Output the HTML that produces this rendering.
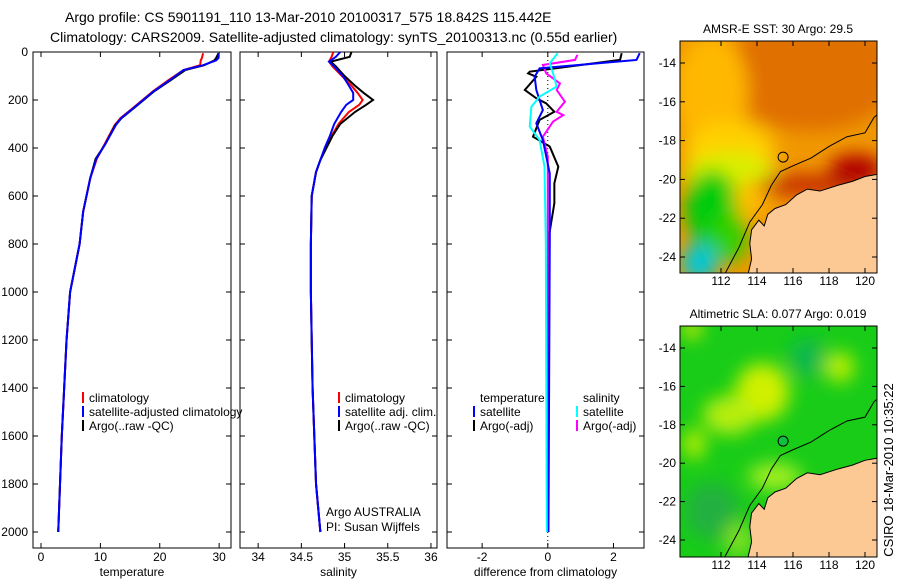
<!DOCTYPE html>
<html><head><meta charset="utf-8"><style>
body{margin:0;background:#fff;width:900px;height:580px;overflow:hidden}
svg{font-family:"Liberation Sans",sans-serif;font-size:12px}
</style></head><body>
<svg id="c" width="900" height="580" xmlns="http://www.w3.org/2000/svg">
<defs>
<filter id="bl" x="-20%" y="-20%" width="140%" height="140%"><feGaussianBlur stdDeviation="9"/></filter>
<clipPath id="m1c"><rect x="680" y="41" width="197" height="232"/></clipPath>
<clipPath id="m2c"><rect x="680" y="326" width="197" height="231"/></clipPath>
</defs>
<text x="65" y="22" font-size="14">Argo profile: CS 5901191_110 13-Mar-2010 20100317_575 18.842S 115.442E</text>
<text x="50" y="42" font-size="14">Climatology: CARS2009. Satellite-adjusted climatology: synTS_20100313.nc (0.55d earlier)</text>
<g id="plots"></g>
<text transform="translate(893,470) rotate(-90)" text-anchor="middle" font-size="13">CSIRO 18-Mar-2010 10:35:22</text>
</svg>
<script>
// ---- data ----
const depthT=[5,25,35,55,75,115,165,235,275,305,385,445,525,665,800,1000,1200,1400,1600,1800,2000];
const tempClim=[27.3,27.1,26.9,26.8,24.0,21.6,18.8,15.4,13.4,12.4,10.7,9.4,8.3,7.1,6.5,4.9,4.3,3.9,3.5,3.2,2.9];
const tempSat=[29.9,29.9,29.5,27.3,24.0,21.8,18.9,15.5,13.5,12.6,10.8,9.3,8.3,7.1,6.5,4.9,4.3,3.9,3.5,3.2,2.9];
const tempArgo=[29.9,29.5,29.2,27.5,24.3,22.0,19.0,15.6,13.6,12.5,10.8,9.2,8.3,7.1,6.5,4.9,4.3,3.9,3.5,3.2,2.9];
const depthS=[0,20,40,60,100,140,170,200,220,250,300,350,400,450,500,600,800,1000,1400,1800,2000];
const salClim=[34.87,34.85,34.82,34.86,34.97,35.08,35.15,35.21,35.17,35.05,34.93,34.85,34.78,34.72,34.67,34.62,34.61,34.61,34.63,34.67,34.72];
const salSat=[34.95,34.90,34.82,34.88,34.98,35.05,35.10,35.10,35.02,34.96,34.88,34.83,34.77,34.72,34.67,34.62,34.61,34.61,34.63,34.67,34.72];
const salArgo=[35.08,35.06,34.84,34.90,35.00,35.12,35.22,35.33,35.25,35.12,34.95,34.86,34.79,34.72,34.67,34.62,34.61,34.61,34.63,34.67,34.72];
const depthDTargo=[5,33,82,89,103,158,193,214,249,283,353,394,478,547,630,780,2000];
const dTargo=[2.25,2.2,-0.55,-0.6,-0.35,-0.7,-0.35,-0.05,0.2,-0.25,-0.45,0.06,0.32,0.2,0.2,0.02,0];
const depthDTsat=[5,33,68,103,158,242,297,367,506,783,2000];
const dTsat=[2.8,2.7,-0.25,-0.4,-0.35,-0.15,-0.35,-0.15,0.06,0.06,0.02];
const depthDSargo=[12,33,54,89,131,158,207,249,263,290,353,436,2000];
const dSargo=[0.9,0.83,-0.15,-0.05,0.37,0.27,0.52,0.27,0.47,0.16,-0.15,0,0];
const depthDSsat=[5,47,89,144,186,228,311,367,478,800,2000];
const dSsat=[0.3,0.06,0.16,0.27,-0.25,-0.5,-0.55,-0.25,-0.1,-0.06,-0.03];
const tTicks=[0,10,20,30], sTicks=[34,34.5,35,35.5,36], dTicks=[-2,0,2], zTicks=[0,200,400,600,800,1000,1200,1400,1600,1800,2000];
const lonTicks=[112,114,116,118,120], latTicks=[-14,-16,-18,-20,-22,-24];
const coast=[[120.9,-19.7],[120,-19.85],[119.3,-20.1],[118.5,-20.3],[117.5,-20.6],[116.8,-20.5],[116.2,-20.8],[115.6,-21.3],[115,-21.5],[114.6,-21.8],[114.4,-22.4],[114.1,-22.1],[113.7,-22.6],[113.6,-23.3],[113.7,-24.1],[113.5,-24.9],[120.9,-24.9]];
const shelf=[[112.2,-24.9],[113,-23.5],[113.6,-22.2],[114.3,-21.3],[114.8,-20.3],[115.3,-19.6],[116,-19.3],[117,-18.9],[118,-18.3],[119,-17.8],[120,-17.6],[120.5,-16.8],[120.9,-16.5]];
const argoPos=[115.45,-18.85];
// ---- drawing ----
const NS='http://www.w3.org/2000/svg', G=document.getElementById('plots');
function mk(t,a,p){const e=document.createElementNS(NS,t);for(const k in a)e.setAttribute(k,a[k]);(p||G).appendChild(e);return e;}
const Y0=52,YS=0.24, yz=d=>Y0+d*YS;
function panel(x0,x1,xmin,xmax,name,label,ticks,fmt){
 const sx=v=>x0+(v-xmin)/(xmax-xmin)*(x1-x0);
 const r=mk('rect',{x:x0,y:yz(0),width:x1-x0,height:548-yz(0),fill:'none',stroke:'#000'});
 
 
 ticks.forEach(t=>{const x=sx(t);mk('line',{x1:x,x2:x,y1:548,y2:543,stroke:'#000'});mk('line',{x1:x,x2:x,y1:yz(0),y2:yz(0)+5,stroke:'#000'});
  const tx=mk('text',{x:x,y:561,'text-anchor':'middle'});tx.textContent=fmt(t);
  
  });
 zTicks.forEach(z=>{mk('line',{x1:x0,x2:x0+5,y1:yz(z),y2:yz(z),stroke:'#000'});mk('line',{x1:x1,x2:x1-5,y1:yz(z),y2:yz(z),stroke:'#000'});});
 const l=mk('text',{x:(x0+x1)/2,y:576,'text-anchor':'middle'});l.textContent=label;
 
 
 return sx;}
function line(sx,xs,ds,col,name){const p=mk('polyline',{points:xs.map((v,i)=>sx(v)+','+yz(ds[i])).join(' '),fill:'none',stroke:col,'stroke-width':2});
 
 }
function leg(x,y,col,txt,name){mk('line',{x1:x,x2:x,y1:y-10,y2:y+1,stroke:col,'stroke-width':2});const t=mk('text',{x:x+6,y:y});t.textContent=txt;
 
 }
zTicks.forEach(z=>{const t=mk('text',{x:28,y:yz(z)+4,'text-anchor':'end'});t.textContent=z;
 
 });
const s1=panel(33,231,-1.35,32,'temperature-panel','temperature',tTicks,v=>v);
line(s1,tempClim,depthT,'#f00','temp-climatology-line');line(s1,tempArgo,depthT,'#000','temp-argo-line');line(s1,tempSat,depthT,'#00f','temp-satellite-line');
leg(83,402,'#f00','climatology','legend-climatology');leg(83,416,'#00f','satellite-adjusted climatology','legend-satellite');leg(83,430,'#000','Argo(..raw -QC)','legend-argo');
const s2=panel(240,437,33.79,36.07,'salinity-panel','salinity',sTicks,v=>v);
line(s2,salClim,depthS,'#f00','sal-climatology-line');line(s2,salArgo,depthS,'#000','sal-argo-line');line(s2,salSat,depthS,'#00f','sal-satellite-line');
leg(339,402,'#f00','climatology','legend-sal-climatology');leg(339,416,'#00f','satellite adj. clim.','legend-sal-satellite');leg(339,430,'#000','Argo(..raw -QC)','legend-sal-argo');
let t=mk('text',{x:326,y:516});t.textContent='Argo AUSTRALIA';
t=mk('text',{x:326,y:531});t.textContent='PI: Susan Wijffels';
const s3=panel(447,644,-3.07,2.93,'difference-panel','difference from climatology',dTicks,v=>v);
mk('line',{x1:s3(0),x2:s3(0),y1:yz(0),y2:548,stroke:'#000','stroke-dasharray':'1,3'});
line(s3,dTargo,depthDTargo,'#000','dtemp-argo-line');line(s3,dSargo,depthDSargo,'#f0f','dsal-argo-line');line(s3,dTsat,depthDTsat,'#00f','dtemp-satellite-line');line(s3,dSsat,depthDSsat,'#0ff','dsal-satellite-line');
t=mk('text',{x:480,y:402});t.textContent='temperature';
t=mk('text',{x:583,y:402});t.textContent='salinity';
leg(474,416,'#00f','satellite','legend-dtemp-satellite');leg(474,430,'#000','Argo(-adj)','legend-dtemp-argo');
leg(577,416,'#0ff','satellite','legend-dsal-satellite');leg(577,430,'#f0f','Argo(-adj)','legend-dsal-argo');
function map(y0,y1,latTop,latPix,title,name,blobs,base,clip,argoFill){
 const LX=v=>721+(v-112)*18, LY=v=>latTop+(-v-14)*latPix;
 const g=mk('g',{'clip-path':'url(#'+clip+')'});
 
 
 mk('rect',{x:680,y:y0,width:197,height:y1-y0,fill:base},g);
 const bg=mk('g',{filter:'url(#bl)'},g);
 blobs.forEach(b=>mk('ellipse',{cx:LX(b[0]),cy:LY(b[1]),rx:b[2]*18,ry:b[3]*latPix,fill:b[4]},bg));
 const pts=c=>c.map(p=>LX(p[0])+','+LY(p[1])).join(' ');
 const land=mk('polygon',{points:pts(coast),fill:'#fcc994',stroke:'#000','stroke-width':1},g);
 
 
 mk('polyline',{points:pts(shelf),fill:'none',stroke:'#000','stroke-width':1},g);
 const a=mk('circle',{cx:LX(argoPos[0]),cy:LY(argoPos[1]),r:5,fill:argoFill,stroke:'#000'},g);
 
 
 mk('rect',{x:680,y:y0,width:197,height:y1-y0,fill:'none',stroke:'#000'});
 lonTicks.forEach(v=>{mk('line',{x1:LX(v),x2:LX(v),y1:y0,y2:y0+5,stroke:'#000'});mk('line',{x1:LX(v),x2:LX(v),y1:y1,y2:y1-5,stroke:'#000'});
  const t=mk('text',{x:LX(v),y:y1+12,'text-anchor':'middle'});t.textContent=v;
  
  });
 latTicks.forEach(v=>{mk('line',{x1:680,x2:685,y1:LY(v),y2:LY(v),stroke:'#000'});mk('line',{x1:877,x2:872,y1:LY(v),y2:LY(v),stroke:'#000'});
  const t=mk('text',{x:676,y:LY(v)+4,'text-anchor':'end'});t.textContent=v;
  
  });
 const tt=mk('text',{x:778,y:y0-8,'text-anchor':'middle'});tt.textContent=title;
 
 }
map(41,273,63,19.4,'AMSR-E SST: 30 Argo: 29.5','sst',[
 [117,-14.5,5,3,'#e07000'],[111.5,-15.5,2,3,'#ffb800'],[112.5,-18.5,2.5,1.5,'#ffd000'],[112.5,-19.8,2.5,1.2,'#d8f000'],
 [111.5,-21.5,1.5,2,'#00cc10'],[110.8,-24.3,1,1,'#00c8d8'],[112.5,-23,1,1.3,'#30d000'],[113.6,-21,0.8,1,'#ffc000'],
 [117,-20.3,3,0.6,'#c83000'],[119.5,-19.5,1.5,0.8,'#b00000']],'#f09800','m1c','none');
map(326,557,348,19.2,'Altimetric SLA: 0.077 Argo: 0.019','sla',[
 [114.3,-16.3,1.5,1.5,'#d0f000'],[112.5,-17.5,1.5,1,'#b8ee10'],[118.6,-15,0.8,0.8,'#c0f000'],[110.5,-19,0.6,0.8,'#c0f000'],
 [116.8,-14.5,1,1,'#10b850'],[111.5,-22.5,1.5,1.5,'#20b040'],[110.4,-13,0.5,0.5,'#f0f000'],[115,-20.7,1.5,0.7,'#a8f020'],[113,-24,0.8,1,'#80e020']],'#18cc18','m2c','#10c040');
</script>
</body></html>
